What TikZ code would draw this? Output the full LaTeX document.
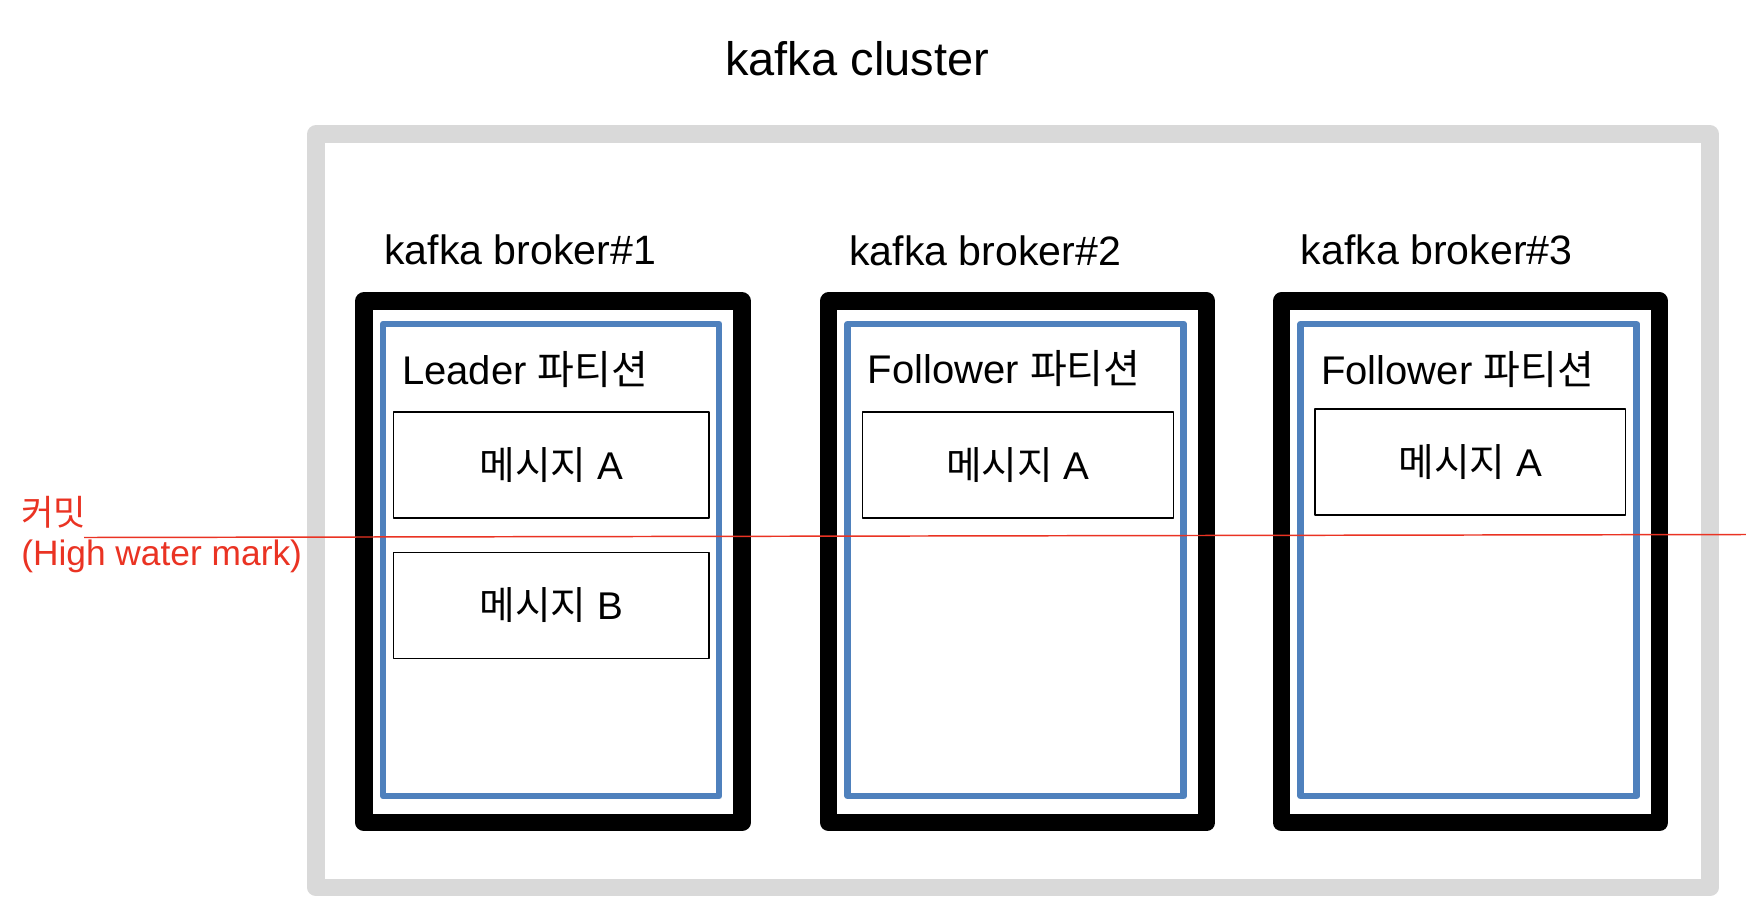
\documentclass[tikz,border=0pt]{standalone}
\usepackage{fontspec}
\setmainfont{Liberation Sans}
\newfontfamily\krfont{Noto Sans CJK KR}
\newcommand\ko[1]{{\krfont #1}}
\definecolor{clgray}{RGB}{217,217,217}
\definecolor{partblue}{RGB}{79,129,189}
\definecolor{hwred}{RGB}{234,51,35}
\begin{document}
\begin{tikzpicture}[x=0.75pt,y=-0.75pt,
  box/.style={inner sep=0pt,outer sep=0pt,line join=round},
  clusterbox/.style={box,draw=clgray,line width=13.1pt,minimum width=1045.5pt,minimum height=565.1pt},
  brokerbox/.style={box,draw=black,line width=13.1pt,minimum width=283.5pt,minimum height=391.1pt},
  partbox/.style={box,draw=partblue,line width=4.9pt,minimum width=252pt,minimum height=354pt},
  msgbox/.style={box,draw=black,fill=white,line width=1.2pt,minimum height=79.5pt,font=\fontsize{29}{33}\selectfont},
  title/.style={inner sep=0pt,anchor=base west,font=\fontsize{35.25}{40}\selectfont},
  brokerlabel/.style={inner sep=0pt,anchor=base west,font=\fontsize{30.8}{36}\selectfont},
  partlabel/.style={inner sep=0pt,anchor=base west,font=\fontsize{30}{36}\selectfont},
  hwlabel/.style={inner sep=0pt,anchor=north west,align=left,text=hwred,font=\fontsize{26.5}{30}\selectfont},
  hwline/.style={draw=hwred,line width=1.1pt}]
\useasboundingbox (0,0) rectangle (1746,914);
\fill[white] (0,0) rectangle (1746,914);
% cluster
\node[clusterbox] (cluster) at (1013,510.75) {};
\node[title] (clustertitle) at (725,75) {kafka cluster};
% brokers
\node[brokerbox] (b1) at (553,561.75) {};
\node[brokerbox] (b2) at (1017.7,561.75) {};
\node[brokerbox] (b3) at (1470.5,561.75) {};
\node[brokerlabel] (b1l) at (384,264) {kafka broker\#1};
\node[brokerlabel] (b2l) at (849,265) {kafka broker\#2};
\node[brokerlabel] (b3l) at (1300.5,264) {kafka broker\#3};
% partitions
\node[partbox] (p1) at (551.2,560) {};
\node[partbox] (p2) at (1015.75,560) {};
\node[partbox] (p3) at (1468.6,560) {};
\node[partlabel] (p1l) at (402,384) {Leader \ko{파티션}};
\node[partlabel] (p2l) at (867.5,383.5) {Follower \ko{파티션}};
\node[partlabel] (p3l) at (1321,384) {Follower \ko{파티션}};
% messages
\node[msgbox,minimum width=236.8pt] (m1a) at (551.2,464.9) {\ko{메시지} A};
\node[msgbox,minimum width=236.8pt] (m1b) at (551.2,605.5) {\ko{메시지} B};
\node[msgbox,minimum width=233pt] (m2a) at (1018,465.2) {\ko{메시지} A};
\node[msgbox,minimum width=233pt] (m3a) at (1470.3,462.2) {\ko{메시지} A};
% high water mark
\node[hwlabel] (hw) at (21,496) {\ko{커밋}\\(High water mark)};
\coordinate (hwL) at (84,537.5);
\coordinate (hwR) at (1746,534.5);
\draw[hwline] (hwL) -- (hwR);
\end{tikzpicture}
\end{document}
